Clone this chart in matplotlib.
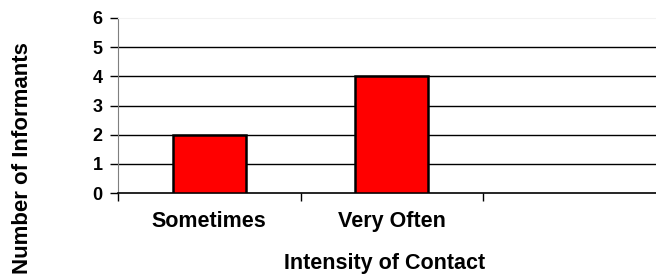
import matplotlib
matplotlib.use("Agg")
import matplotlib.pyplot as plt

# data (third category is empty)
categories = ["Sometimes", "Very Often", ""]
informants = [2, 4]
y_ticks = [0, 1, 2, 3, 4, 5, 6]

plt.rcParams['font.family'] = ['Liberation Sans', 'DejaVu Sans']
plt.rcParams['font.weight'] = 'bold'

W, H = 656, 279
fig = plt.figure(figsize=(W / 100, H / 100), dpi=100)
ax = fig.add_axes([118 / W, 1 - 193 / H, 547.5 / W, 175 / H])

x = list(range(len(categories)))
ax.bar(x[:len(informants)], informants, width=0.4, color='#ff0000',
       edgecolor='black', linewidth=1.8, zorder=3)

ax.set_xlim(-0.5, len(categories) - 0.5)
ax.set_ylim(0, 6)
ax.set_yticks(y_ticks)
ax.set_yticklabels([str(t) for t in y_ticks], fontsize=13, fontweight='bold')

# gridlines
for t in y_ticks[1:-1]:
    ax.axhline(t, color='black', linewidth=1.0, zorder=1)

# category labels at centers, tick marks at boundaries
ax.set_xticks(x)
ax.set_xticklabels(categories, fontsize=15.5, fontweight='bold')
ax.tick_params(axis='x', which='major', length=0, pad=13)
ax.set_xticks([i - 0.5 for i in x], minor=True)
ax.tick_params(axis='x', which='minor', length=6, width=1, direction='out')
ax.tick_params(axis='y', length=6, width=1, direction='out', pad=5)

ax.spines['right'].set_visible(False)
ax.spines['top'].set_color('#f2f2f2')
ax.spines['left'].set_color('#7f7f7f')
ax.spines['bottom'].set_color('black')
ax.spines['bottom'].set_linewidth(1.2)

ax.set_xlabel('Intensity of Contact', fontsize=15.5, fontweight='bold')
ax.xaxis.set_label_coords((385 - 118) / 547.5, (193 - 253) / 175)
ax.set_ylabel('Number of Informants', fontsize=16, fontweight='bold')
ax.yaxis.set_label_coords((33 - 118) / 547.5, (193 - 158) / 175)

fig.savefig('out.png', dpi=100)
